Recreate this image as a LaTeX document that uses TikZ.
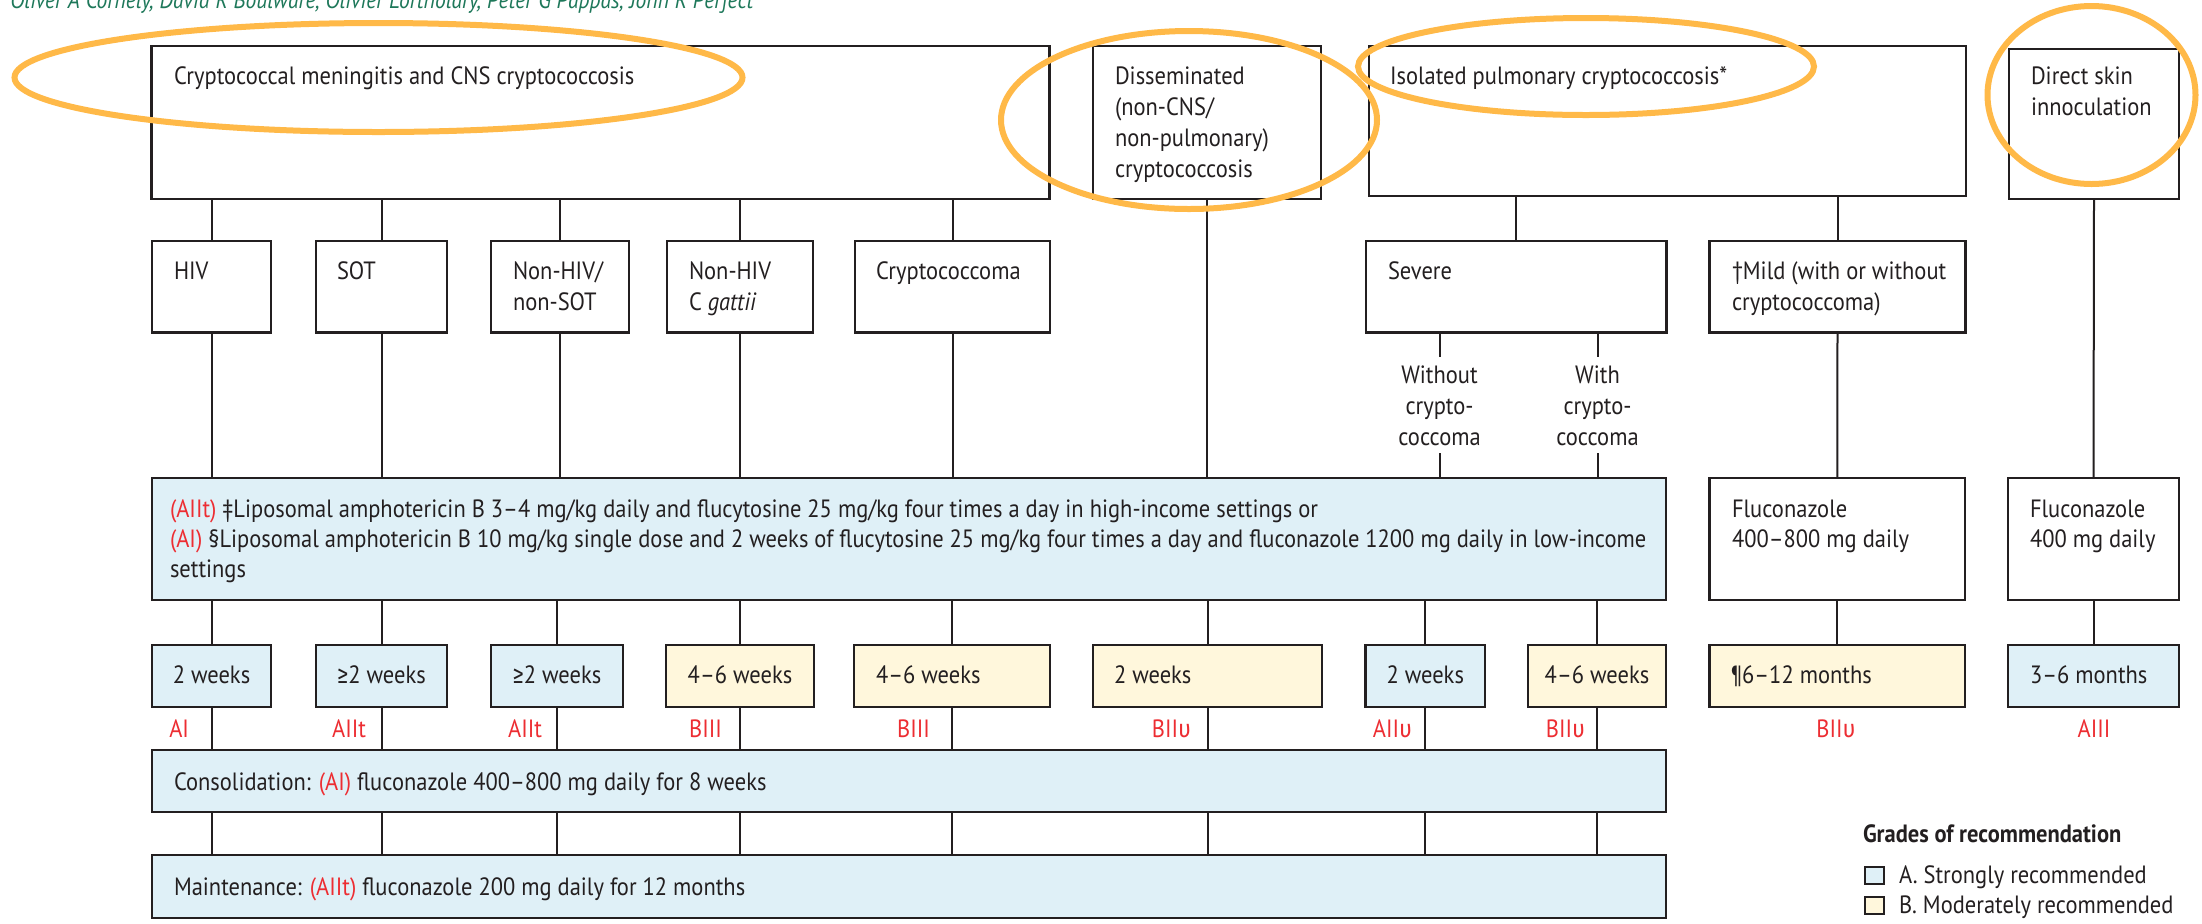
\documentclass[tikz,border=0pt]{standalone}
\usepackage{fontspec}
\setmainfont{PT Sans}[FakeStretch=0.9]
\newfontfamily\grk{Fira Sans}[FakeStretch=0.9]
\usetikzlibrary{fit}
\definecolor{ink}{RGB}{35,31,32}
\definecolor{bluef}{RGB}{223,240,247}
\definecolor{yellf}{RGB}{255,247,220}
\definecolor{gred}{RGB}{237,45,50}
\definecolor{hl}{RGB}{255,185,72}
\definecolor{hgreen}{RGB}{30,120,90}
\newcommand\ups{{\grk υ}}
\newcommand\gte{{\grk ≥}}
\begin{document}
\begin{tikzpicture}[x=0.5pt,y=-0.5pt,
  box/.style={draw=ink, line width=1.4pt, inner sep=0pt, outer sep=0pt},
  bluebox/.style={box, fill=bluef},
  yellbox/.style={box, fill=yellf},
  lbl/.style={inner sep=0pt, outer sep=0pt, text=ink, font=\fontsize{12.5}{15.5}\selectfont, align=left},
  clbl/.style={lbl, align=center},
  grade/.style={inner sep=0pt, outer sep=0pt, text=gred, font=\fontsize{12.5}{15.5}\selectfont},
  conn/.style={draw=ink, line width=1pt},
  ring/.style={draw=hl, line width=3pt}]
\useasboundingbox (0,0) rectangle (2202,923);
\clip (0,0) rectangle (2202,923);
\fill[white] (0,0) rectangle (2202,923);

% header (cut off at the top edge)
\node[anchor=base west, inner sep=0pt, text=hgreen, font=\itshape\fontsize{12}{14}\selectfont] (authors) at (10,8) {Oliver A Cornely, David R Boulware, Olivier Lortholary, Peter G Pappas, John R Perfect};

% top row
\node[box, fit={(151.5,46) (1049.5,199)}] (cns) {};
\node[box, fit={(1093,46) (1321,199)}] (dis) {};
\node[box, fit={(1369,46) (1966,196)}] (iso) {};
\node[box, fit={(2009,49) (2179,199)}] (skin) {};

% second row
\node[box, fit={(152,241) (271,332.5)}] (hiv) {};
\node[box, fit={(316,241) (447,332.5)}] (sot) {};
\node[box, fit={(491,241) (629,332.5)}] (nonhiv) {};
\node[box, fit={(667,241) (813,332.5)}] (gattii) {};
\node[box, fit={(855,241) (1050,332.5)}] (cryptoma) {};
\node[box, fit={(1366,241) (1666.5,332.5)}] (severe) {};
\node[box, fit={(1709.5,241) (1965.5,332.5)}] (mild) {};

% third row
\node[bluebox, fit={(152,478) (1666,600)}] (induct) {};
\node[box, fit={(1709.5,478) (1965,600)}] (flua) {};
\node[box, fit={(2008,478) (2179,600)}] (flub) {};

% durations
\node[bluebox, fit={(152,645) (271,707)}] (d1) {};
\node[bluebox, fit={(316,645) (447,707)}] (d2) {};
\node[bluebox, fit={(491,645) (623,707)}] (d3) {};
\node[yellbox, fit={(666,645) (814,707)}] (d4) {};
\node[yellbox, fit={(854,645) (1050,707)}] (d5) {};
\node[yellbox, fit={(1093,645) (1322,707)}] (d6) {};
\node[bluebox, fit={(1365.5,645) (1485,707)}] (d7) {};
\node[yellbox, fit={(1528,645) (1666,707)}] (d8) {};
\node[yellbox, fit={(1709.5,645) (1965,707)}] (d9) {};
\node[bluebox, fit={(2008,645) (2179,707)}] (d10) {};

% consolidation / maintenance
\node[bluebox, fit={(152,750) (1666,812)}] (cons) {};
\node[bluebox, fit={(152,855) (1666,918)}] (maint) {};

% severe sub-branch labels (anchor base = last line)
\node[clbl, anchor=base] (without) at (1439.5,445) {Without\\crypto-\\coccoma};
\node[clbl, anchor=base] (with) at (1597.5,445) {With\\crypto-\\coccoma};

% connectors
\foreach \n in {hiv,sot,nonhiv,gattii,cryptoma}{
  \draw[conn] (cns.south -| \n.north) -- (\n.north);
  \draw[conn] (\n.south) -- (\n.south |- induct.north);
}
\draw[conn] (dis.south) -- (dis.south |- induct.north);
\draw[conn] (iso.south -| severe.north) -- (severe.north);
\draw[conn] (iso.south -| mild.north) -- (mild.north);
\draw[conn] (mild.south) -- (flua.north);
\draw[conn] (skin.south) -- (flub.north);
\draw[conn] (severe.south -| without.base) -- ([yshift=44pt]without.base);
\draw[conn] (severe.south -| with.base) -- ([yshift=44pt]with.base);
\draw[conn] ([yshift=-4pt]without.base) -- (without.base |- induct.north);
\draw[conn] ([yshift=-4pt]with.base) -- (with.base |- induct.north);
\draw[conn] (flua.south) -- (d9.north);
\draw[conn] (flub.south) -- (d10.north);
\foreach \n in {d1,d2,d3,d4,d5,d6,d7,d8}{
  \draw[conn] (induct.south -| \n.north) -- (\n.north);
  \draw[conn] (\n.south) -- (\n.south |- cons.north);
  \draw[conn] (cons.south -| \n.south) -- (maint.north -| \n.south);
}

% texts in top row
\node[lbl, anchor=base west] (tcns) at (174,84) {Cryptococcal meningitis and CNS cryptococcosis};
\node[lbl, anchor=base west] (tdis) at (1115,177) {Disseminated\\(non-CNS/\\non-pulmonary)\\cryptococcosis};
\node[lbl, anchor=base west] (tiso) at (1390,84) {Isolated pulmonary cryptococcosis*};
\node[lbl, anchor=base west] (tskin) at (2031,115) {Direct skin\\innoculation};

% texts in second row
\node[lbl, anchor=base west] (thiv) at (174,279) {HIV};
\node[lbl, anchor=base west] (tsot) at (337,279) {SOT};
\node[lbl, anchor=base west] (tnonhiv) at (513,310) {Non-HIV/\\non-SOT};
\node[lbl, anchor=base west] (tgattii) at (689,310) {Non-HIV\\C \textit{gattii}};
\node[lbl, anchor=base west] (tcryptoma) at (876,279) {Cryptococcoma};
\node[lbl, anchor=base west] (tsevere) at (1388,279) {Severe};
\node[lbl, anchor=base west] (tmild) at (1732,310) {†Mild (with or without\\cryptococcoma)};

% texts in third row
\node[lbl, anchor=base west, font=\fontsize{12.5}{15}\selectfont] (tinduct) at (170,577) {\textcolor{gred}{(AIIt)} ‡Liposomal amphotericin B 3–4 mg/kg daily and flucytosine 25 mg/kg four times a day in high-income settings or\\\textcolor{gred}{(AI)} §Liposomal amphotericin B 10 mg/kg single dose and 2 weeks of flucytosine 25 mg/kg four times a day and fluconazole 1200 mg daily in low-income\\settings};
\node[lbl, anchor=base west, font=\fontsize{12.5}{15}\selectfont] (tflua) at (1732,547) {Fluconazole\\400–800 mg daily};
\node[lbl, anchor=base west, font=\fontsize{12.5}{15}\selectfont] (tflub) at (2030,547) {Fluconazole\\400 mg daily};

% duration texts
\node[lbl, anchor=base] (td1) at (d1 |- 0,683) {2 weeks};
\node[lbl, anchor=base] (td2) at (d2 |- 0,683) {\gte2 weeks};
\node[lbl, anchor=base] (td3) at (d3 |- 0,683) {\gte2 weeks};
\node[lbl, anchor=base] (td4) at (d4 |- 0,683) {4–6 weeks};
\node[lbl, anchor=base west] (td5) at (876,683) {4–6 weeks};
\node[lbl, anchor=base west] (td6) at (1114,683) {2 weeks};
\node[lbl, anchor=base] (td7) at (d7 |- 0,683) {2 weeks};
\node[lbl, anchor=base] (td8) at (d8 |- 0,683) {4–6 weeks};
\node[lbl, anchor=base west] (td9) at (1731,683) {¶6–12 months};
\node[lbl, anchor=base west] (td10) at (2030,683) {3–6 months};

% grades
\node[grade, anchor=base east] (g1) at (189,737) {AI};
\node[grade, anchor=base east] (g2) at (366,737) {AIIt};
\node[grade, anchor=base east] (g3) at (542,737) {AIIt};
\node[grade, anchor=base east] (g4) at (722,737) {BIII};
\node[grade, anchor=base east] (g5) at (930,737) {BIII};
\node[grade, anchor=base east] (g6) at (1191,737) {BII\ups};
\node[grade, anchor=base east] (g7) at (1412,737) {AII\ups};
\node[grade, anchor=base east] (g8) at (1585,737) {BII\ups};
\node[grade, anchor=base] (g9) at (1836,737) {BII\ups};
\node[grade, anchor=base] (g10) at (2094,737) {AIII};

% consolidation / maintenance texts
\node[lbl, anchor=base west] (tcons) at (174,790) {Consolidation: \textcolor{gred}{(AI)} fluconazole 400–800 mg daily for 8 weeks};
\node[lbl, anchor=base west] (tmaint) at (174,895) {Maintenance: \textcolor{gred}{(AIIt)} fluconazole 200 mg daily for 12 months};

% legend
\node[lbl, anchor=base west, font=\bfseries\fontsize{12.5}{15}\selectfont] (legt) at (1863,842) {Grades of recommendation};
\node[bluebox, line width=1pt, fit={(1865,867) (1884,884)}] (lega) {};
\node[yellbox, line width=1pt, fit={(1865,897) (1884,914)}] (legb) {};
\node[lbl, anchor=base west] (tlega) at (1899,883) {A. Strongly recommended};
\node[lbl, anchor=base west] (tlegb) at (1899,913) {B. Moderately recommended};

% highlight rings
\draw[ring] (378.5,77.5) ellipse [x radius=364, y radius=54.5];
\draw[ring] (1189,120) ellipse [x radius=188, y radius=89];
\draw[ring] (1586,66.5) ellipse [x radius=228, y radius=48.5];
\draw[ring] (2091.5,95) ellipse [x radius=104, y radius=89];
\end{tikzpicture}
\end{document}
